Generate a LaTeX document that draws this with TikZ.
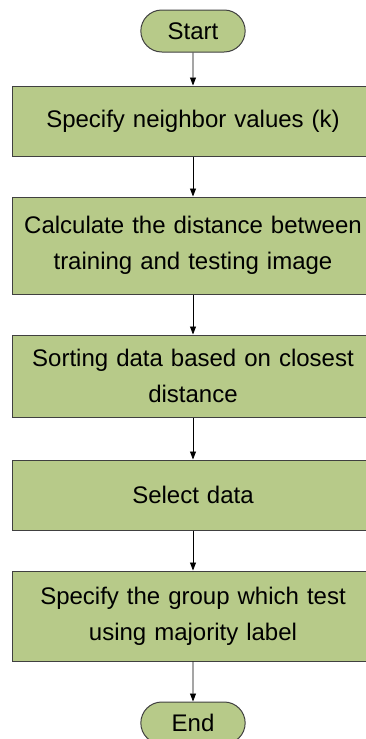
\documentclass[tikz,border=0pt]{standalone}
\usepackage{fontspec}
\setmainfont{Liberation Sans}
\usetikzlibrary{positioning,arrows.meta,shapes.misc}
\definecolor{boxgreen}{RGB}{183,202,137}
\definecolor{boxedge}{RGB}{64,64,64}
\tikzset{
  process/.style={rectangle, draw=boxedge, fill=boxgreen, line width=1pt,
    inner sep=4pt, text width=354pt, align=center,
    font=\fontsize{24}{36}\selectfont},
  terminal/.style={rounded rectangle, draw=boxedge, fill=boxgreen, line width=1pt,
    minimum width=111pt, minimum height=42pt, font=\fontsize{24}{36}\selectfont},
  flow/.style={-{Triangle[length=8pt,width=6pt]}, line width=0.8pt}
}
\begin{document}
\begin{tikzpicture}[node distance=40pt]
  \useasboundingbox (0,0) rectangle (366pt,-739pt);
  \node[terminal] (start) at (193pt,-31pt) {Start};
  \node[process, minimum height=70pt, below=33pt of start] (neighbor) {Specify neighbor values (k)};
  \node[process, minimum height=97pt, below=of neighbor] (distance) {Calculate the distance between\\training and testing image};
  \node[process, minimum height=82pt, below=of distance] (sorting) {Sorting data based on closest\\distance};
  \node[process, minimum height=70pt, below=42pt of sorting] (select) {Select data};
  \node[process, minimum height=90pt, below=of select] (group) {Specify the group which test\\using majority label};
  \node[terminal, below=of group] (end) {End};
  % connectors
  \draw[flow] (start) -- (neighbor);
  \draw[flow] (neighbor) -- (distance);
  \draw[flow] (distance) -- (sorting);
  \draw[flow] (sorting) -- (select);
  \draw[flow] (select) -- (group);
  \draw[flow] (group) -- (end);
\end{tikzpicture}
\end{document}
